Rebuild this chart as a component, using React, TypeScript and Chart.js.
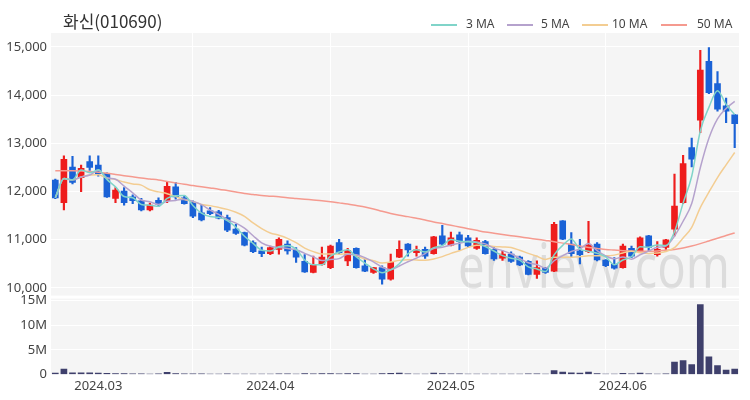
import { useEffect, useRef } from "react";
import { Chart, registerables } from "chart.js";

Chart.register(...registerables);

const TITLE = "화신(010690)";
const WATERMARK = "envievv.com";

const HOLIDAYS = ["2024-03-01", "2024-04-10", "2024-05-01", "2024-05-06", "2024-05-15", "2024-06-06"];

function tradingDays(start: string, end: string): string[] {
  const out: string[] = [];
  const d = new Date(start + "T00:00:00Z");
  const e = new Date(end + "T00:00:00Z");
  while (d.getTime() <= e.getTime()) {
    const iso = d.toISOString().slice(0, 10);
    const wd = d.getUTCDay();
    if (wd !== 0 && wd !== 6 && !HOLIDAYS.includes(iso)) out.push(iso);
    d.setUTCDate(d.getUTCDate() + 1);
  }
  return out;
}

const dates = tradingDays("2024-02-23", "2024-06-21");

const opens = [
  12240, 11770, 12510, 12290, 12620, 12550, 12380, 11860, 12010, 11890,
  11810, 11620, 11820, 11810, 12100, 11870, 11770, 11560, 11600, 11580,
  11460, 11220, 11150, 10940, 10770, 10710, 10800, 10910, 10780, 10550,
  10320, 10490, 10420, 10940, 10560, 10820, 10460, 10320, 10420, 10180,
  10640, 10910, 10730, 10800, 10710, 11080, 10890, 11100, 11040, 10820,
  10960, 10800, 10620, 10700, 10640, 10550, 10280, 10420, 10350, 11390,
  10910, 10770, 10750, 10910, 10580, 10490, 10420, 10820, 10770, 11080,
  10690, 10840, 11220, 11770, 12910, 13480, 14700, 14240, 13780, 13590,
];
const highs = [
  12260, 12740, 12730, 12550, 12740, 12740, 12390, 12080, 12080, 11930,
  11860, 11760, 11870, 12190, 12190, 11910, 11810, 11720, 11670, 11610,
  11510, 11320, 11160, 10980, 10850, 10870, 11040, 10980, 10840, 10690,
  10660, 10850, 10890, 11010, 10820, 10830, 10600, 10430, 10460, 10700,
  10980, 10920, 10870, 10850, 11070, 11300, 11160, 11160, 11090, 11040,
  10990, 10840, 10770, 10750, 10660, 10570, 10560, 10430, 11360, 11400,
  11150, 11010, 11380, 10940, 10590, 10630, 10910, 10870, 11060, 11090,
  10960, 11010, 12360, 12750, 13110, 14930, 14990, 14490, 13940, 13600,
];
const lows = [
  11850, 11620, 12160, 12000, 12440, 12320, 11880, 11770, 11720, 11750,
  11600, 11600, 11690, 11770, 11840, 11740, 11460, 11390, 11520, 11430,
  11170, 11110, 10870, 10730, 10650, 10690, 10700, 10700, 10530, 10320,
  10310, 10470, 10400, 10710, 10460, 10410, 10340, 10300, 10080, 10160,
  10630, 10660, 10660, 10610, 10700, 10890, 10870, 10790, 10850, 10800,
  10700, 10570, 10570, 10530, 10460, 10270, 10200, 10300, 10340, 11000,
  10630, 10500, 10730, 10560, 10440, 10390, 10410, 10630, 10730, 10770,
  10660, 10800, 11080, 11750, 12510, 13220, 14030, 13670, 13430, 12910,
];
const closes = [
  11870, 12670, 12190, 12480, 12500, 12370, 11890, 12030, 11770, 11810,
  11620, 11720, 11740, 12110, 11890, 11750, 11490, 11410, 11540, 11450,
  11200, 11130, 10890, 10750, 10710, 10840, 11010, 10770, 10640, 10330,
  10470, 10640, 10870, 10730, 10780, 10420, 10350, 10420, 10180, 10530,
  10800, 10790, 10790, 10660, 11060, 10910, 11040, 10960, 10870, 10990,
  10710, 10600, 10700, 10550, 10480, 10280, 10420, 10320, 11320, 11010,
  10710, 10690, 10890, 10580, 10460, 10410, 10870, 10660, 11040, 10840,
  10800, 11000, 11700, 12580, 12670, 14520, 14050, 13710, 13670, 13410,
];
const volumes = [
  300000, 1100000, 350000, 350000, 350000, 300000, 250000, 200000, 200000, 150000,
  150000, 100000, 150000, 450000, 200000, 150000, 150000, 150000, 100000, 100000,
  150000, 100000, 100000, 100000, 100000, 100000, 150000, 150000, 100000, 200000,
  150000, 200000, 200000, 150000, 200000, 200000, 100000, 100000, 200000, 250000,
  300000, 150000, 100000, 100000, 300000, 200000, 150000, 150000, 100000, 100000,
  100000, 100000, 100000, 100000, 100000, 150000, 150000, 100000, 800000, 500000,
  350000, 300000, 500000, 200000, 100000, 100000, 250000, 150000, 300000, 150000,
  100000, 150000, 2500000, 2800000, 2000000, 14200000, 3600000, 1800000, 900000, 1100000,
];
// 50-day moving average (needs history before the window)
const ma50 = [
  12430, 12430, 12430, 12425, 12415, 12400, 12380, 12355, 12330, 12305,
  12280, 12260, 12240, 12210, 12180, 12150, 12125, 12100, 12075, 12050,
  12020, 11990, 11960, 11940, 11920, 11905, 11890, 11870, 11855, 11840,
  11825, 11810, 11790, 11765, 11740, 11710, 11680, 11640, 11590, 11545,
  11510, 11480, 11445, 11410, 11370, 11335, 11300, 11265, 11230, 11195,
  11160, 11135, 11110, 11085, 11060, 11035, 11010, 10985, 10960, 10930,
  10900, 10870, 10840, 10820, 10800, 10785, 10770, 10765, 10760, 10762,
  10768, 10780, 10800, 10830, 10870, 10920, 10975, 11030, 11090, 11140,
];

const priceTicks = [10000, 11000, 12000, 13000, 14000, 15000];
const volumeTicks = [0, 5000000, 10000000, 15000000];
const vGridIdx = [16, 32, 48, 64];

function movingAvg(values: number[], n: number): number[] {
  return values.map((_, i) => {
    const w = values.slice(Math.max(0, i - n + 1), i + 1);
    return w.reduce((a, b) => a + b, 0) / w.length;
  });
}

const UP = "#ee1d1d";
const DOWN = "#1a62d6";
const VOL = "#3f406c";
const MA_COLORS = ["#80d4c9", "#b5a2cd", "#f3cd92", "#f59a8f"];
const MA_NAMES = ["3 MA", "5 MA", "10 MA", "50 MA"];
const FONT = '"Noto Sans", "DejaVu Sans", sans-serif';

const isUp = (i: number) => closes[i] >= opens[i];

const decor = {
  id: "decor",
  beforeDraw(chart: any) {
    const { ctx, chartArea } = chart;
    const y = chart.scales.y;
    const v = chart.scales.vol;
    ctx.save();
    ctx.fillStyle = "#f5f5f5";
    ctx.fillRect(chartArea.left, y.top, chartArea.right - chartArea.left, y.bottom - y.top - 1);
    ctx.fillRect(chartArea.left, v.top + 2, chartArea.right - chartArea.left, v.bottom - v.top - 2);
    ctx.restore();
  },
  beforeDatasetsDraw(chart: any) {
    const { ctx } = chart;
    ctx.save();
    ctx.fillStyle = "rgba(0,0,0,0.1)";
    ctx.font = `62px ${FONT}`;
    ctx.textBaseline = "alphabetic";
    ctx.textAlign = "left";
    ctx.fillText(WATERMARK, 458, 288, 272);
    ctx.restore();
  },
  afterDraw(chart: any) {
    const { ctx } = chart;
    ctx.save();
    ctx.fillStyle = "#333";
    ctx.font = `17px "Noto Sans CJK KR", ${FONT}`;
    ctx.textBaseline = "middle";
    ctx.textAlign = "left";
    ctx.fillText(TITLE, 63, 22);
    const items = [
      [431, 466],
      [507, 541],
      [582, 612],
      [661, 697],
    ];
    ctx.font = `12px ${FONT}`;
    items.forEach(([lx, tx], k) => {
      ctx.strokeStyle = MA_COLORS[k];
      ctx.lineWidth = 2;
      ctx.beginPath();
      ctx.moveTo(lx, 25);
      ctx.lineTo(lx + 26, 25);
      ctx.stroke();
      ctx.fillStyle = "#444";
      ctx.fillText(MA_NAMES[k], tx, 25);
    });
    ctx.restore();
  },
};

export default function App() {
  const ref = useRef<HTMLCanvasElement>(null);
  useEffect(() => {
    const canvas = ref.current;
    if (!canvas) return;
    const maData = [movingAvg(closes, 3), movingAvg(closes, 5), movingAvg(closes, 10), ma50];
    const monthLabel = (i: number) => {
      if (i === 0) return "";
      const m = dates[i].slice(5, 7);
      if (m !== dates[i - 1].slice(5, 7)) return dates[i].slice(0, 4) + "." + m;
      return "";
    };
    const chart = new Chart(canvas, {
      type: "bar",
      data: {
        labels: dates,
        datasets: [
          ...maData.map((d, k) => ({
            type: "line" as const,
            label: MA_NAMES[k],
            data: d,
            yAxisID: "y",
            borderColor: MA_COLORS[k],
            backgroundColor: MA_COLORS[k],
            borderWidth: 1.5,
            pointRadius: 0,
            cubicInterpolationMode: "monotone" as const,
            order: k,
          })),
          {
            type: "bar" as const,
            label: "wick",
            data: lows.map((l, i) => [l, highs[i]]),
            yAxisID: "y",
            backgroundColor: (c: any) => (isUp(c.dataIndex) ? UP : DOWN),
            barThickness: 1.5,
            grouped: false,
            order: 10,
          },
          {
            type: "bar" as const,
            label: "body",
            data: opens.map((o, i) => [o, closes[i]]),
            yAxisID: "y",
            backgroundColor: (c: any) => (isUp(c.dataIndex) ? UP : DOWN),
            barThickness: 6,
            minBarLength: 1.5,
            grouped: false,
            order: 9,
          },
          {
            type: "bar" as const,
            label: "volume",
            data: volumes,
            yAxisID: "vol",
            backgroundColor: VOL,
            barThickness: 6,
            grouped: false,
            order: 11,
          },
        ],
      } as any,
      options: {
        animation: false,
        responsive: true,
        maintainAspectRatio: false,
        layout: { padding: { top: 33, right: 11, bottom: 5.5, left: 0 } },
        plugins: { legend: { display: false }, tooltip: { enabled: false }, title: { display: false } },
        scales: {
          x: {
            type: "category",
            offset: true,
            border: { display: false },
            grid: {
              offset: false,
              drawTicks: false,
              color: (c: any) => (vGridIdx.includes(c.index) ? "#ffffff" : "rgba(0,0,0,0)"),
            },
            afterFit: (s: any) => {
              s.height = 20;
            },
            ticks: {
              autoSkip: false,
              maxRotation: 0,
              padding: 4,
              color: "#444",
              font: { family: FONT, size: 13 },
              callback: (_v: any, i: number) => monthLabel(i),
            },
          },
          y: {
            type: "linear",
            position: "left",
            stack: "main",
            stackWeight: 264,
            weight: 2,
            min: 9820,
            max: 15290,
            border: { display: false },
            grid: { color: "#ffffff", drawTicks: false },
            afterBuildTicks: (s: any) => {
              s.ticks = priceTicks.map((value) => ({ value }));
            },
            afterFit: (s: any) => {
              s.width = 51;
            },
            ticks: {
              autoSkip: false,
              padding: 4,
              color: "#444",
              font: { family: FONT, size: 13 },
              callback: (v: any) => Number(v).toLocaleString("en-US"),
            },
          },
          vol: {
            type: "linear",
            position: "left",
            stack: "main",
            stackWeight: 78,
            weight: 1,
            min: 0,
            max: 15800000,
            border: { display: false },
            grid: { color: "#ffffff", drawTicks: false },
            afterBuildTicks: (s: any) => {
              s.ticks = volumeTicks.map((value) => ({ value }));
            },
            afterFit: (s: any) => {
              s.width = 51;
            },
            ticks: {
              autoSkip: false,
              padding: 4,
              color: "#444",
              font: { family: FONT, size: 13 },
              callback: (v: any) => (Number(v) === 0 ? "0" : Number(v) / 1000000 + "M"),
            },
          },
        },
      } as any,
      plugins: [decor],
    });
    return () => chart.destroy();
  }, []);
  return (
    <div style={{ position: "absolute", left: 0, top: 0, width: 750, height: 400, background: "#fff" }}>
      <canvas ref={ref} />
    </div>
  );
}
